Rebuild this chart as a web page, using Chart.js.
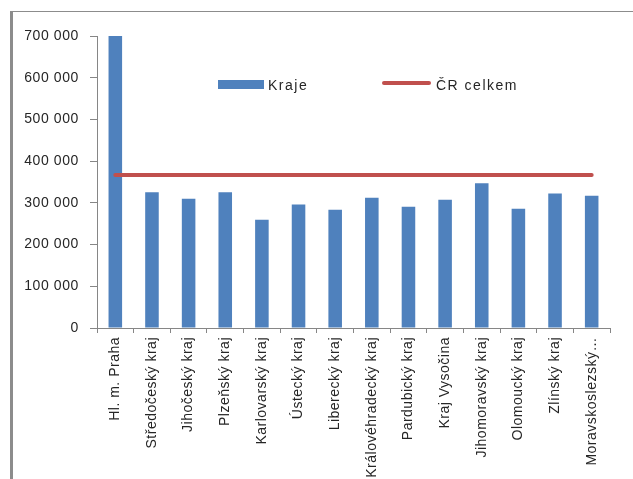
<!DOCTYPE html>
<html>
<head>
<meta charset="utf-8">
<script src="https://cdn.jsdelivr.net/npm/chart.js@4/dist/chart.umd.min.js"></script>
<style>
  html, body { margin: 0; padding: 0; background: #fff; }
  #wrap { position: relative; width: 633px; height: 479px; overflow: hidden; }
  #frame { position: absolute; left: 10px; top: 11px; width: 700px; height: 600px;
           border-top: 1px solid #8c8c8c; border-left: 3px solid #8c8c8c; box-sizing: border-box; }
  #holder { position: absolute; left: 0; top: 0; width: 633px; height: 479px; }
  .lg { position: absolute; font-family: 'Liberation Sans', Arial, sans-serif; font-size: 14px;
        line-height: 16px; color: #262626; white-space: nowrap; letter-spacing: 1.5px; }
  .box { position: absolute; }
</style>
</head>
<body>
<div id="wrap">
  <div id="frame"></div>
  <div id="holder"><canvas id="c"></canvas></div>
  <div class="box" style="left:218px;top:80px;width:46px;height:9px;background:#4F81BD;"></div>
  <div class="lg" id="lgBar" style="left:268px;top:76.5px;"></div>
  <div class="box" style="left:382px;top:81px;width:49px;height:4px;border-radius:2px;background:#C0504D;"></div>
  <div class="lg" id="lgLine" style="left:436px;top:76.5px;"></div>
</div>
<script>
const categories = [
  'Hl. m. Praha', 'Středočeský kraj', 'Jihočeský kraj', 'Plzeňský kraj',
  'Karlovarský kraj', 'Ústecký kraj', 'Liberecký kraj', 'Královéhradecký kraj',
  'Pardubický kraj', 'Kraj Vysočina', 'Jihomoravský kraj', 'Olomoucký kraj',
  'Zlínský kraj', 'Moravskoslezský…'
];
const krajeValues = [
  700000, 325700, 309900, 325700, 259500, 296200, 283500, 312300,
  290700, 307500, 347300, 285900, 322600, 317100
];
const crValues = [
  367000, 367000, 367000, 367000, 367000, 367000, 367000,
  367000, 367000, 367000, 367000, 367000, 367000, 367000
];
const seriesNames = ['Kraje', 'ČR celkem'];
const yTicks = [0, 100000, 200000, 300000, 400000, 500000, 600000, 700000];

document.getElementById('lgBar').textContent = seriesNames[0];
document.getElementById('lgLine').textContent = seriesNames[1];

const FONT = "'Liberation Sans', Arial, sans-serif";
const AXIS = '#868686';
const TXT = '#262626';

const fmt = v => String(v).replace(/\B(?=(\d{3})+(?!\d))/g, ' ');

const spacingPlugin = {
  id: 'spacing',
  beforeDraw(chart) { chart.ctx.letterSpacing = '0.5px'; },
  afterDraw(chart) { chart.ctx.letterSpacing = '0px'; }
};

new Chart(document.getElementById('c'), {
  type: 'bar',
  data: {
    labels: categories,
    datasets: [
      {
        type: 'line',
        label: seriesNames[1],
        data: crValues,
        borderColor: '#C0504D',
        backgroundColor: '#C0504D',
        borderWidth: 4,
        borderCapStyle: 'round',
        pointRadius: 0,
        fill: false,
        order: 0
      },
      {
        type: 'bar',
        label: seriesNames[0],
        data: krajeValues,
        backgroundColor: '#4F81BD',
        borderWidth: 0,
        barPercentage: 0.37,
        categoryPercentage: 1,
        order: 1
      }
    ]
  },
  options: {
    responsive: true,
    maintainAspectRatio: false,
    devicePixelRatio: 1,
    animation: false,
    layout: { padding: { top: 36, left: 0, right: 23, bottom: 0 } },
    plugins: { legend: { display: false }, tooltip: { enabled: false } },
    scales: {
      x: {
        type: 'category',
        offset: true,
        grid: { offset: true, drawOnChartArea: false, drawTicks: true, tickLength: 5, color: AXIS },
        border: { color: AXIS, width: 1 },
        ticks: {
          autoSkip: false, maxRotation: 90, minRotation: 90, padding: 4,
          color: TXT, font: { family: FONT, size: 14 }
        },
        afterFit(s) { s.height = 151; }
      },
      y: {
        min: 0, max: 700000,
        afterBuildTicks(s) { s.ticks = yTicks.map(v => ({ value: v })); },
        grid: { drawOnChartArea: false, drawTicks: true, tickLength: 7, color: AXIS },
        border: { color: AXIS, width: 1 },
        ticks: {
          padding: 11, color: TXT, font: { family: FONT, size: 14 },
          callback: v => fmt(v)
        },
        afterFit(s) {
          s.width = 97;
          if (!s._patched) {
            const orig = s.drawLabels;
            s.drawLabels = function (a) {
              const c = this.ctx; const p = c.letterSpacing;
              c.letterSpacing = '0.6px'; orig.call(this, a); c.letterSpacing = p;
            };
            s._patched = true;
          }
        }
      }
    }
  },
  plugins: [spacingPlugin]
});
</script>
</body>
</html>
